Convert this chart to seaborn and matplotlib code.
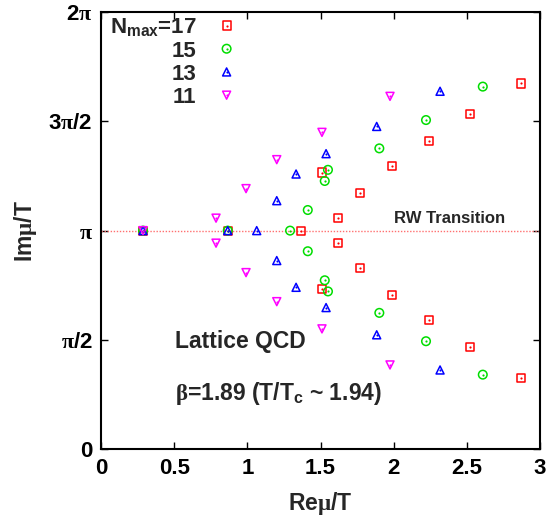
import numpy as np
import pandas as pd
import matplotlib
matplotlib.use('Agg')
import matplotlib.pyplot as plt
import seaborn as sns
from matplotlib.legend_handler import HandlerTuple

# ---------------- data ----------------
# N_max = 17 (red open squares)
re17 = [0.287, 0.866, 1.367, 1.620, 1.620, 1.770, 1.770, 1.511, 1.511,
        1.989, 1.989, 2.240, 2.240, 2.520, 2.520, 2.873, 2.873]
im17 = [3.142, 3.142, 3.142, 3.318, 2.966, 3.677, 2.607, 3.976, 2.308,
        4.064, 2.220, 4.426, 1.858, 4.818, 1.466, 5.255, 1.029]
# N_max = 15 (green open circles)
re15 = [0.287, 0.866, 1.292, 1.413, 1.413, 1.529, 1.529, 1.551, 1.551,
        1.902, 1.902, 2.221, 2.221, 2.609, 2.609]
im15 = [3.142, 3.142, 3.142, 3.438, 2.846, 3.855, 2.429, 4.015, 2.269,
        4.323, 1.961, 4.730, 1.554, 5.210, 1.074]
# N_max = 13 (blue open triangles)
re13 = [0.287, 0.866, 1.064, 1.201, 1.201, 1.333, 1.333, 1.538, 1.538,
        1.884, 1.884, 2.317, 2.317]
im13 = [3.142, 3.142, 3.142, 3.572, 2.712, 3.955, 2.328, 4.247, 2.037,
        4.638, 1.646, 5.143, 1.141]
# N_max = 11 (magenta open down-triangles)
re11 = [0.287, 0.786, 0.786, 0.991, 0.991, 1.201, 1.201, 1.510, 1.510,
        1.975, 1.975]
im11 = [3.142, 3.321, 2.962, 3.745, 2.539, 4.161, 2.122, 4.553, 1.731,
        5.070, 1.213]

legend_labels = ['N$_{\\mathbf{max}}$=17', '15', '13', '11']
x_ticks = [0, 0.5, 1, 1.5, 2, 2.5, 3]
x_ticklabels = ['0', '0.5', '1', '1.5', '2', '2.5', '3']
y_ticks = [0, np.pi / 2, np.pi, 3 * np.pi / 2, 2 * np.pi]
y_ticklabels = ['0', '$\\mathrm{\\pi}$/2', '$\\mathrm{\\pi}$',
                '3$\\mathrm{\\pi}$/2', '2$\\mathrm{\\pi}$']
rw_level = np.pi

# ---------------- style ----------------
sns.set_style('ticks')
plt.rcParams['font.family'] = ['Liberation Sans', 'DejaVu Sans']
plt.rcParams['font.weight'] = 'bold'
plt.rcParams['mathtext.fontset'] = 'custom'
plt.rcParams['mathtext.rm'] = 'Liberation Serif'
plt.rcParams['mathtext.it'] = 'Liberation Serif:italic'
plt.rcParams['mathtext.bf'] = 'Liberation Sans:bold'
plt.rcParams['mathtext.sf'] = 'Liberation Sans'

fig = plt.figure(figsize=(5.49, 5.16), dpi=100)
ax = fig.add_axes([0.184, 0.129, 0.7996, 0.848])

series = [
    (re17, im17, 's', '#ff0000', 34),
    (re15, im15, 'o', '#00dd00', 38),
    (re13, im13, '^', '#0000ff', 33),
    (re11, im11, 'v', '#ff00ff', 33),
]

# RW transition line
ax.axhline(rw_level, color='#ff7070', lw=1.0, ls=(0, (1, 1.2)), zorder=1)

handles = []
for xs, ys, mk, col, size in series:
    df = pd.DataFrame({'re': xs, 'im': ys})
    sns.scatterplot(data=df, x='re', y='im', marker=mk, s=size,
                    color=col, facecolor='none', edgecolor=col,
                    linewidth=1.1, legend=False, ax=ax, zorder=3)
    h1 = ax.collections[-1]
    sns.scatterplot(data=df, x='re', y='im', marker='o', s=2.5,
                    color=col, edgecolor=col, linewidth=0,
                    legend=False, ax=ax, zorder=4)
    h2 = ax.collections[-1]
    handles.append((h1, h2))

ax.set_xlim(0, 3)
ax.set_ylim(0, 2 * np.pi)
ax.set_xticks(x_ticks)
ax.set_xticklabels(x_ticklabels)
ax.set_yticks(y_ticks)
ax.set_yticklabels(y_ticklabels)
ax.tick_params(direction='in', top=True, right=True, length=5, width=1,
               labelsize=16, pad=6, colors='black')
for lab in ax.get_xticklabels() + ax.get_yticklabels():
    lab.set_fontweight('bold')
for sp in ax.spines.values():
    sp.set_linewidth(1.5)
    sp.set_color('black')

ax.set_xlabel('Re$\\mathrm{\\mu}$/T', fontsize=16.5, fontweight='bold', labelpad=8)
ax.set_ylabel('Im$\\mathrm{\\mu}$/T', fontsize=16.5, fontweight='bold', labelpad=7)

ax.text(2.385, 3.31, 'RW Transition', fontsize=12, fontweight='bold',
        ha='center', va='center')
ax.text(0.506, 1.55, 'Lattice QCD', fontsize=16.5, fontweight='bold',
        ha='left', va='center')
ax.text(0.506, 0.81, '$\\mathrm{\\beta}$=1.89 (T/T$_{\\mathbf{c}}$ ~ 1.94)',
        fontsize=16.5, fontweight='bold', ha='left', va='center')

leg = ax.legend(handles, legend_labels, loc='upper left', frameon=False,
                markerfirst=False,
                handler_map={tuple: HandlerTuple(ndivide=1, pad=0)},
                prop={'family': 'Liberation Sans', 'weight': 'bold', 'size': 16},
                handlelength=1.0, handletextpad=0.85, labelspacing=0.1,
                borderpad=0.1, borderaxespad=0.0,
                bbox_to_anchor=(0.015, 0.995), scatteryoffsets=[0.5])

fig.savefig('out.png', dpi=100)
